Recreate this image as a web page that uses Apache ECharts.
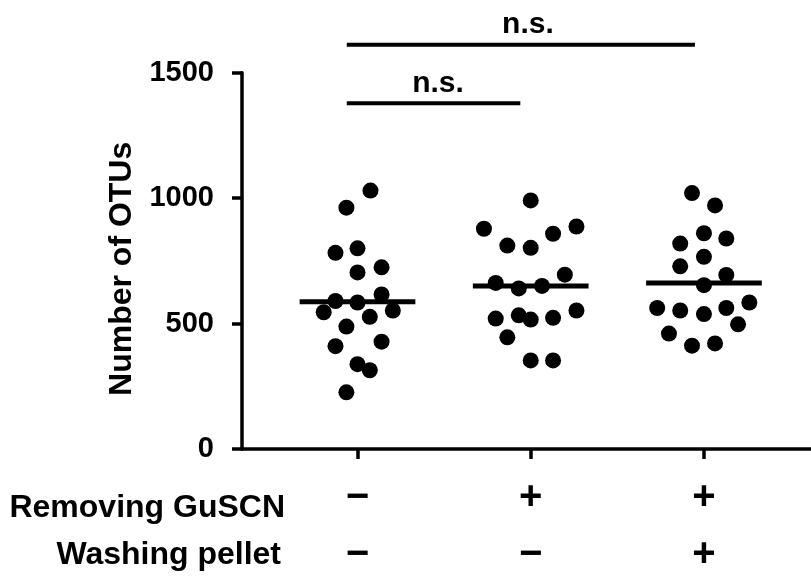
<!DOCTYPE html>
<html><head><meta charset="utf-8">
<script src="https://cdn.jsdelivr.net/npm/echarts@6/dist/echarts.min.js"></script>
<style>html,body{margin:0;padding:0;background:#fff}#chart{width:811px;height:583px}</style>
</head><body><div id="chart"></div>
<script>
// ---- data ----
const groupPositions = [1, 2, 3];
const removingGuSCN = ['\u2212', '+', '+'];
const washingPellet = ['\u2212', '\u2212', '+'];
const rowTitles = ['Removing GuSCN', 'Washing pellet'];
const yAxisName = 'Number of OTUs';
const yTicks = [0, 500, 1000, 1500];

const group1Values  = [1030, 962, 782, 800, 704, 724, 616, 590, 584, 545, 552, 527, 488, 410, 428, 338, 314, 226];
const group1Offsets = [0.075, -0.064, -0.127, 0, 0, 0.139, 0.139, -0.127, 0, -0.195, 0.204, 0.071, -0.064, -0.127, 0.139, 0, 0.071, -0.064];
const group2Values  = [991, 878, 887, 858, 811, 802, 695, 662, 640, 650, 552, 520, 533, 516, 523, 445, 353, 353];
const group2Offsets = [0, -0.27, 0.264, 0.129, -0.135, 0, 0.197, -0.202, -0.069, 0.065, 0.264, -0.202, -0.069, 0, 0.129, -0.135, 0, 0.129];
const group3Values  = [1020, 971, 860, 819, 839, 766, 728, 694, 653, 562, 552, 538, 562, 584, 497, 460, 412, 421];
const group3Offsets = [-0.069, 0.064, 0, -0.137, 0.129, 0, -0.137, 0.129, 0, -0.27, -0.137, 0, 0.129, 0.262, 0.197, -0.202, -0.069, 0.064];
const medians = [587, 650, 662];
const medianHalfWidth = 0.334;

const bracketFrom = [0.938, 0.938];
const bracketTo = [1.94, 2.948];
const bracketY = [1378, 1611];
const bracketText = ['n.s.', 'n.s.'];
const bracketTextX = [1.465, 1.984];

// ---- chart ----
const FONT = '"Liberation Sans", Arial, sans-serif';
const groupsValues = [group1Values, group2Values, group3Values];
const groupsOffsets = [group1Offsets, group2Offsets, group3Offsets];

const series = [];
groupsValues.forEach((vals, g) => {
  series.push({
    type: 'scatter', symbol: 'circle', symbolSize: 16,
    itemStyle: { color: '#000', opacity: 1 }, silent: true, z: 3,
    data: vals.map((v, i) => [groupPositions[g] + groupsOffsets[g][i], v])
  });
});
medians.forEach((m, g) => {
  series.push({
    type: 'line', symbol: 'none', silent: true, z: 4,
    lineStyle: { color: '#000', width: 5 },
    data: [[groupPositions[g] - medianHalfWidth, m], [groupPositions[g] + medianHalfWidth, m]]
  });
});
bracketY.forEach((y, b) => {
  series.push({
    type: 'line', symbol: 'none', silent: true, clip: false, z: 4,
    lineStyle: { color: '#000', width: 4 },
    data: [[bracketFrom[b], y], [bracketTo[b], y]]
  });
});
series.push({
  type: 'scatter', symbol: 'circle', symbolSize: 0, clip: false, silent: true, z: 5,
  itemStyle: { color: 'rgba(0,0,0,0)', opacity: 1 },
  label: { show: true, position: 'top', distance: 5, formatter: '{b}', opacity: 1,
           color: '#000', fontFamily: FONT, fontWeight: 'bold', fontSize: 30 },
  data: bracketY.map((y, b) => ({ name: bracketText[b], value: [bracketTextX[b], y] }))
});

const chart = echarts.init(document.getElementById('chart'), null, { renderer: 'canvas' });
chart.setOption({
  animation: false,
  backgroundColor: '#fff',
  grid: { left: 242, right: 0, top: 72.7, bottom: 126, containLabel: false },
  xAxis: {
    type: 'value', min: 0.3333, max: 3.618,
    splitLine: { show: false },
    axisLine: { show: true, lineStyle: { color: '#000', width: 3.5 } },
    axisTick: { show: true, customValues: groupPositions, length: 10, lineStyle: { color: '#000', width: 3.5 } },
    axisLabel: {
      show: true, customValues: groupPositions, margin: 20,
      formatter: v => { const i = groupPositions.indexOf(Math.round(v)); return removingGuSCN[i] + '\n' + washingPellet[i]; },
      color: '#000', fontFamily: FONT, fontWeight: 'bold', fontSize: 40, lineHeight: 57
    }
  },
  yAxis: {
    type: 'value', min: yTicks[0], max: yTicks[yTicks.length - 1], interval: yTicks[1] - yTicks[0],
    splitLine: { show: false },
    axisLine: { show: true, lineStyle: { color: '#000', width: 3.5 } },
    axisTick: { show: true, length: 10, lineStyle: { color: '#000', width: 3.5 } },
    axisLabel: { color: '#000', fontFamily: FONT, fontWeight: 'bold', fontSize: 29, margin: 28,
                 formatter: v => String(v) },
    name: yAxisName, nameLocation: 'middle', nameRotate: 90, nameGap: 86,
    nameTextStyle: { color: '#000', fontFamily: FONT, fontWeight: 'bold', fontSize: 32, padding: [0, 16, 0, 0] }
  },
  graphic: [
    { type: 'text', x: 285, y: 508, silent: true,
      style: { text: rowTitles[0], align: 'right', verticalAlign: 'middle', fill: '#000',
               font: 'bold 32px ' + FONT } },
    { type: 'text', x: 281, y: 555, silent: true,
      style: { text: rowTitles[1], align: 'right', verticalAlign: 'middle', fill: '#000',
               font: 'bold 32px ' + FONT } }
  ],
  series: series
});
</script></body></html>
